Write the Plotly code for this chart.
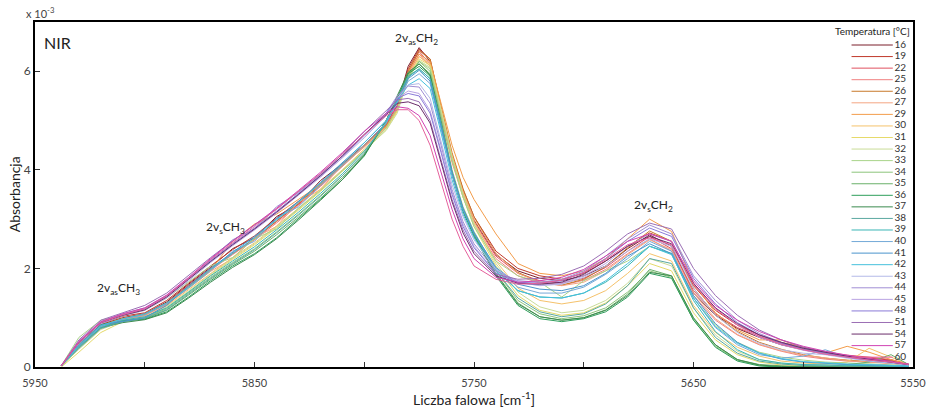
import plotly.graph_objects as go

# Wavenumber grid [cm-1]
wavenumber = [5938, 5930, 5920, 5910, 5900, 5890, 5880, 5870, 5860, 5850,
              5840, 5830, 5820, 5810, 5800, 5790, 5785, 5780, 5775, 5770,
              5765, 5760, 5755, 5750, 5740, 5730, 5720, 5710, 5700, 5690,
              5680, 5670, 5660, 5650, 5640, 5630, 5620, 5610, 5600, 5590,
              5580, 5570, 5560, 5552]

temps = [16, 19, 22, 25, 26, 27, 29, 30, 31, 32, 33, 34, 35, 36,
         37, 38, 39, 40, 41, 42, 43, 44, 45, 48, 51, 54, 57, 60]

# Absorbance x 10^-3
abs_16 = [0.03, 0.48, 0.86, 1.0, 1.08, 1.32, 1.68, 2.02, 2.4, 2.62, 3.05, 3.3, 3.78, 4.12, 4.5, 4.95, 5.3, 6.1, 6.48, 6.2, 5.15, 4.25, 3.55, 2.98, 2.28, 1.95, 1.8, 1.75, 1.85, 2.05, 2.4, 2.68, 2.45, 1.5, 1.05, 0.78, 0.6, 0.45, 0.35, 0.26, 0.2, 0.15, 0.12, 0.05]
abs_19 = [0.02, 0.5, 0.88, 1.03, 1.1, 1.35, 1.7, 2.05, 2.38, 2.66, 3.02, 3.36, 3.72, 4.12, 4.52, 4.9, 5.25, 6.05, 6.45, 6.25, 5.25, 4.3, 3.6, 3.05, 2.35, 2.0, 1.85, 1.78, 1.9, 2.15, 2.45, 2.72, 2.55, 1.65, 1.15, 0.85, 0.65, 0.5, 0.4, 0.3, 0.22, 0.18, 0.14, 0.06]
abs_22 = [0.03, 0.45, 0.84, 0.98, 1.06, 1.3, 1.66, 2.0, 2.3, 2.6, 2.95, 3.3, 3.68, 4.08, 4.5, 4.92, 5.3, 6.0, 6.4, 6.15, 5.1, 4.2, 3.5, 2.95, 2.25, 1.9, 1.75, 1.7, 1.8, 2.02, 2.35, 2.65, 2.4, 1.55, 1.08, 0.8, 0.62, 0.48, 0.38, 0.3, 0.24, 0.2, 0.15, 0.06]
abs_25 = [0.02, 0.42, 0.8, 0.96, 1.04, 1.28, 1.62, 1.96, 2.28, 2.58, 2.92, 3.28, 3.66, 4.06, 4.48, 4.88, 5.25, 5.95, 6.35, 6.1, 5.1, 4.15, 3.45, 2.9, 2.2, 1.85, 1.7, 1.66, 1.76, 1.98, 2.3, 2.6, 2.35, 1.45, 0.95, 0.65, 0.45, 0.32, 0.22, 0.16, 0.12, 0.1, 0.08, 0.04]
abs_26 = [0.02, 0.46, 0.85, 0.99, 1.07, 1.3, 1.64, 1.98, 2.3, 2.6, 2.96, 3.32, 3.7, 4.1, 4.52, 4.9, 5.22, 6.0, 6.42, 6.25, 5.3, 4.35, 3.62, 3.05, 2.3, 1.92, 1.72, 1.66, 1.78, 2.04, 2.42, 2.76, 2.55, 1.6, 1.05, 0.72, 0.5, 0.36, 0.25, 0.18, 0.14, 0.11, 0.08, 0.04]
abs_27 = [0.03, 0.4, 0.8, 0.97, 1.05, 1.26, 1.6, 1.94, 2.2, 2.62, 2.85, 3.34, 3.6, 4.1, 4.46, 4.86, 5.2, 5.92, 6.3, 6.12, 5.2, 4.25, 3.55, 3.0, 2.3, 1.9, 1.72, 1.65, 1.72, 1.95, 2.28, 2.58, 2.38, 1.5, 0.98, 0.66, 0.46, 0.33, 0.24, 0.18, 0.13, 0.1, 0.07, 0.03]
abs_29 = [0.02, 0.44, 0.83, 0.98, 1.06, 1.28, 1.62, 1.96, 2.55, 2.9, 3.1, 3.4, 3.7, 4.08, 4.5, 4.88, 5.22, 5.98, 6.35, 6.2, 5.35, 4.5, 3.85, 3.4, 2.7, 2.1, 1.9, 1.85, 1.95, 2.2, 2.6, 3.0, 2.75, 1.7, 1.1, 0.75, 0.55, 0.55, 0.38, 0.28, 0.42, 0.3, 0.15, 0.05]
abs_30 = [0.02, 0.38, 0.78, 0.95, 1.02, 1.24, 1.57, 1.9, 2.22, 2.52, 2.86, 3.22, 3.6, 4.0, 4.42, 4.85, 5.2, 5.9, 6.3, 6.15, 5.25, 4.3, 3.55, 2.95, 2.15, 1.6, 1.35, 1.28, 1.35, 1.55, 1.9, 2.3, 2.15, 1.25, 0.7, 0.4, 0.22, 0.12, 0.08, 0.06, 0.1, 0.38, 0.2, 0.05]
abs_31 = [0.0, 0.3, 0.7, 0.92, 1.0, 1.2, 1.52, 1.86, 2.18, 2.48, 2.82, 3.18, 3.56, 3.96, 4.38, 4.82, 5.18, 5.88, 6.25, 6.12, 5.2, 4.2, 3.45, 2.85, 2.05, 1.45, 1.15, 1.05, 1.1, 1.3, 1.65, 2.1, 1.95, 1.1, 0.55, 0.25, 0.1, 0.04, 0.02, 0.01, 0.0, 0.0, 0.0, 0.0]
abs_32 = [0.02, 0.36, 0.76, 0.93, 1.01, 1.22, 1.54, 1.88, 2.2, 2.5, 2.84, 3.2, 3.58, 3.98, 4.4, 4.8, 5.15, 5.85, 6.22, 6.08, 5.2, 4.25, 3.5, 2.9, 2.1, 1.52, 1.22, 1.1, 1.15, 1.35, 1.7, 2.2, 2.05, 1.2, 0.65, 0.32, 0.15, 0.08, 0.05, 0.04, 0.03, 0.03, 0.02, 0.01]
abs_33 = [0.03, 0.6, 0.95, 1.05, 1.15, 1.4, 1.72, 2.05, 2.22, 2.6, 2.8, 3.22, 3.58, 3.98, 4.38, 4.85, 5.25, 5.85, 6.2, 6.05, 5.15, 4.2, 3.45, 2.85, 2.15, 1.85, 1.72, 1.42, 1.75, 1.95, 2.15, 2.45, 2.3, 1.4, 0.85, 0.5, 0.3, 0.2, 0.14, 0.1, 0.08, 0.06, 0.05, 0.03]
abs_34 = [0.02, 0.4, 0.8, 0.94, 1.0, 1.18, 1.5, 1.82, 2.12, 2.4, 2.74, 3.1, 3.48, 3.88, 4.32, 4.95, 5.4, 5.9, 6.2, 6.0, 5.05, 4.0, 3.25, 2.75, 1.95, 1.35, 1.08, 0.98, 1.04, 1.2, 1.52, 1.95, 1.82, 0.95, 0.42, 0.14, 0.03, 0.0, 0.0, 0.0, 0.0, 0.0, 0.0, 0.0]
abs_35 = [0.03, 0.45, 0.82, 0.92, 0.98, 1.15, 1.46, 1.78, 2.08, 2.35, 2.68, 3.04, 3.42, 3.84, 4.3, 5.0, 5.45, 5.95, 6.15, 5.95, 5.0, 3.95, 3.2, 2.7, 1.9, 1.3, 1.02, 0.95, 1.0, 1.16, 1.48, 1.98, 1.85, 0.98, 0.45, 0.15, 0.05, 0.02, 0.0, 0.0, 0.05, 0.1, 0.25, 0.05]
abs_36 = [0.02, 0.5, 0.86, 0.94, 0.97, 1.12, 1.42, 1.75, 2.05, 2.3, 2.62, 3.0, 3.4, 3.8, 4.28, 5.0, 5.45, 5.95, 6.1, 5.9, 4.95, 3.9, 3.15, 2.65, 1.85, 1.25, 0.98, 0.92, 0.98, 1.12, 1.42, 1.9, 1.8, 0.95, 0.4, 0.12, 0.02, 0.0, 0.0, 0.0, 0.0, 0.0, 0.0, 0.0]
abs_37 = [0.03, 0.42, 0.8, 0.9, 0.96, 1.1, 1.4, 1.72, 2.02, 2.28, 2.6, 2.98, 3.38, 3.8, 4.3, 5.0, 5.5, 5.98, 6.15, 5.92, 4.95, 3.92, 3.18, 2.68, 1.88, 1.28, 1.02, 0.95, 1.0, 1.15, 1.45, 1.92, 1.85, 1.0, 0.45, 0.15, 0.04, 0.01, 0.0, 0.0, 0.0, 0.0, 0.0, 0.0]
abs_38 = [0.02, 0.38, 0.78, 0.92, 0.99, 1.16, 1.48, 1.8, 2.1, 2.38, 2.72, 3.08, 3.46, 3.88, 4.34, 4.98, 5.42, 5.9, 6.05, 5.85, 4.95, 3.95, 3.2, 2.7, 1.95, 1.4, 1.12, 1.02, 1.08, 1.28, 1.65, 2.2, 2.1, 1.2, 0.6, 0.28, 0.12, 0.06, 0.03, 0.02, 0.02, 0.02, 0.02, 0.01]
abs_39 = [0.03, 0.4, 0.8, 0.95, 1.02, 1.2, 1.52, 1.85, 2.15, 2.44, 2.78, 3.14, 3.52, 3.92, 4.38, 4.95, 5.4, 5.88, 6.05, 5.85, 4.92, 3.92, 3.18, 2.7, 1.98, 1.55, 1.42, 1.4, 1.5, 1.72, 2.05, 2.45, 2.3, 1.35, 0.72, 0.35, 0.15, 0.08, 0.05, 0.04, 0.03, 0.03, 0.02, 0.02]
abs_40 = [0.02, 0.42, 0.82, 0.97, 1.06, 1.28, 1.6, 1.95, 2.35, 2.55, 3.02, 3.25, 3.68, 4.08, 4.5, 4.95, 5.35, 5.8, 5.95, 5.75, 4.85, 3.9, 3.2, 2.72, 2.0, 1.62, 1.5, 1.5, 1.62, 1.88, 2.2, 2.55, 2.35, 1.4, 0.8, 0.45, 0.25, 0.18, 0.22, 0.35, 0.2, 0.12, 0.08, 0.04]
abs_41 = [0.03, 0.45, 0.85, 0.92, 1.0, 1.25, 1.65, 2.0, 2.33, 2.65, 3.0, 3.36, 3.74, 4.14, 4.55, 5.0, 5.4, 5.85, 6.02, 5.8, 4.9, 3.95, 3.22, 2.72, 2.02, 1.68, 1.58, 1.55, 1.65, 1.9, 2.25, 2.5, 2.3, 1.45, 0.88, 0.5, 0.28, 0.16, 0.1, 0.07, 0.05, 0.04, 0.03, 0.02]
abs_42 = [0.02, 0.44, 0.84, 0.98, 1.08, 1.3, 1.62, 1.98, 2.3, 2.62, 2.98, 3.34, 3.72, 4.12, 4.55, 5.0, 5.38, 5.72, 5.85, 5.65, 4.75, 3.8, 3.1, 2.62, 1.95, 1.55, 1.42, 1.4, 1.5, 1.75, 2.1, 2.45, 2.28, 1.4, 0.82, 0.48, 0.28, 0.17, 0.11, 0.08, 0.06, 0.05, 0.04, 0.02]
abs_43 = [0.03, 0.5, 0.9, 1.05, 1.18, 1.42, 1.78, 2.14, 2.48, 2.8, 3.14, 3.5, 3.86, 4.24, 4.65, 5.1, 5.45, 5.72, 5.75, 5.45, 4.6, 3.7, 3.05, 2.58, 1.98, 1.72, 1.65, 1.68, 1.82, 2.05, 2.35, 2.6, 2.45, 1.6, 1.05, 0.7, 0.48, 0.35, 0.28, 0.25, 0.18, 0.12, 0.08, 0.04]
abs_44 = [0.02, 0.52, 0.92, 1.08, 1.2, 1.45, 1.8, 2.18, 2.58, 2.8, 3.25, 3.54, 3.9, 4.28, 4.7, 5.15, 5.5, 5.7, 5.68, 5.35, 4.5, 3.6, 2.95, 2.5, 1.95, 1.75, 1.72, 1.78, 1.95, 2.25, 2.6, 2.88, 2.7, 1.85, 1.35, 0.95, 0.68, 0.5, 0.38, 0.3, 0.22, 0.16, 0.1, 0.05]
abs_45 = [0.03, 0.48, 0.88, 1.04, 1.15, 1.4, 1.75, 2.12, 2.46, 2.78, 3.12, 3.48, 3.85, 4.25, 4.68, 5.12, 5.45, 5.6, 5.55, 5.2, 4.4, 3.55, 2.9, 2.45, 1.9, 1.7, 1.66, 1.7, 1.85, 2.1, 2.45, 2.7, 2.55, 1.7, 1.2, 0.85, 0.6, 0.45, 0.34, 0.26, 0.2, 0.15, 0.1, 0.05]
abs_48 = [0.02, 0.5, 0.9, 1.06, 1.18, 1.44, 1.8, 2.16, 2.5, 2.82, 3.16, 3.52, 3.88, 4.28, 4.72, 5.15, 5.45, 5.55, 5.5, 5.15, 4.35, 3.5, 2.85, 2.42, 1.9, 1.72, 1.7, 1.75, 1.92, 2.2, 2.55, 2.82, 2.65, 1.8, 1.28, 0.9, 0.65, 0.48, 0.36, 0.28, 0.2, 0.14, 0.1, 0.05]
abs_51 = [0.03, 0.55, 0.95, 1.1, 1.25, 1.5, 1.86, 2.22, 2.56, 2.88, 3.2, 3.56, 3.92, 4.32, 4.78, 5.2, 5.42, 5.45, 5.38, 5.0, 4.2, 3.4, 2.78, 2.35, 1.88, 1.78, 1.8, 1.88, 2.05, 2.35, 2.7, 2.92, 2.8, 2.0, 1.45, 1.05, 0.75, 0.55, 0.4, 0.3, 0.22, 0.15, 0.1, 0.05]
abs_54 = [0.02, 0.5, 0.9, 1.05, 1.16, 1.42, 1.78, 2.14, 2.48, 2.8, 3.14, 3.5, 3.88, 4.28, 4.72, 5.12, 5.35, 5.38, 5.3, 4.95, 4.15, 3.35, 2.72, 2.3, 1.85, 1.7, 1.68, 1.72, 1.88, 2.15, 2.45, 2.65, 2.5, 1.7, 1.2, 0.88, 0.65, 0.5, 0.38, 0.3, 0.22, 0.16, 0.1, 0.05]
abs_57 = [0.03, 0.52, 0.92, 1.08, 1.2, 1.46, 1.82, 2.2, 2.55, 2.88, 3.22, 3.58, 3.95, 4.35, 4.78, 5.15, 5.28, 5.25, 5.1, 4.7, 3.95, 3.2, 2.6, 2.2, 1.82, 1.72, 1.75, 1.82, 1.98, 2.25, 2.55, 2.7, 2.55, 1.75, 1.25, 0.95, 0.72, 0.55, 0.42, 0.32, 0.24, 0.18, 0.12, 0.06]
abs_60 = [0.02, 0.5, 0.9, 1.06, 1.18, 1.44, 1.8, 2.18, 2.52, 2.85, 3.2, 3.56, 3.92, 4.32, 4.72, 5.1, 5.22, 5.22, 5.0, 4.5, 3.75, 3.0, 2.45, 2.05, 1.78, 1.68, 1.7, 1.76, 1.92, 2.18, 2.48, 2.62, 2.48, 1.68, 1.18, 0.85, 0.62, 0.46, 0.35, 0.26, 0.2, 0.14, 0.1, 0.05]

series = [abs_16, abs_19, abs_22, abs_25, abs_26, abs_27, abs_29, abs_30, abs_31, abs_32,
          abs_33, abs_34, abs_35, abs_36, abs_37, abs_38, abs_39, abs_40, abs_41, abs_42,
          abs_43, abs_44, abs_45, abs_48, abs_51, abs_54, abs_57, abs_60]

x_tickvals = [5950, 5900, 5850, 5800, 5750, 5700, 5650, 5600, 5550]
x_ticktext = ['5950', '', '5850', '', '5750', '', '5650', '', '5550']
y_tickvals = [0, 2, 4, 6]

colors = ['#7b1f2a', '#c0392b', '#e0505f', '#f08080', '#c8782a', '#f4a582', '#f39c4a',
          '#f5c26b', '#e6da6a', '#c9dc98', '#a8d48a', '#8cc47a', '#6ab06a', '#2e9e5b',
          '#3b8a4f', '#5aa8a0', '#3ab5b5', '#74a9d8', '#4a94cc', '#45c0dc', '#b3b9e8',
          '#a08ed4', '#b9a3e3', '#8a7ad8', '#9b6fb5', '#6b2d6b', '#d043b3', '#e5619c']

font = 'Lato, Open Sans, sans-serif'

fig = go.Figure()

for t, ys, c in zip(temps, series, colors):
    fig.add_trace(go.Scatter(x=wavenumber, y=ys, mode='lines', name=str(t),
                             line=dict(color=c, width=1), showlegend=False))

# hand-made legend (native legend is too tall for 28 entries)
for i, (t, c) in enumerate(zip(temps, colors)):
    fig.add_trace(go.Scatter(x=[0.3, 0.77], y=[i, i], mode='lines', xaxis='x2', yaxis='y2',
                             line=dict(color=c, width=1), showlegend=False, hoverinfo='skip'))
fig.add_trace(go.Scatter(x=[0.79] * len(temps), y=list(range(len(temps))), mode='text',
                         text=[str(t) for t in temps], textposition='middle right',
                         textfont=dict(family=font, size=10, color='#333'),
                         xaxis='x2', yaxis='y2', showlegend=False, hoverinfo='skip'))

fig.update_layout(
    width=931, height=407,
    margin=dict(l=35, r=18, t=22, b=40),
    paper_bgcolor='white', plot_bgcolor='rgba(0,0,0,0)',
    font=dict(family=font, color='#333'),
    xaxis=dict(range=[5950, 5550], tickvals=x_tickvals, ticktext=x_ticktext,
               ticks='inside', ticklen=5, tickcolor='#333', showgrid=False, zeroline=False,
               showline=True, linecolor='black', linewidth=2, mirror=True,
               tickfont=dict(size=11, color='#444'), ticklabeloverflow='allow',
               ticklabelstandoff=5, automargin=False),
    yaxis=dict(range=[0, 7], tickvals=y_tickvals, ticks='inside', ticklen=5, tickcolor='#333',
               showgrid=False, zeroline=False, showline=True, linecolor='black', linewidth=2,
               mirror=True, tickfont=dict(size=12, color='#444'), automargin=False),
    xaxis2=dict(domain=[0.9, 1.0], range=[0, 1], visible=False, anchor='y2'),
    yaxis2=dict(domain=[0, 1], range=[27.85, -1.99], visible=False, anchor='x2'),
    annotations=[
        dict(text='Liczba falowa [cm<sup>-1</sup>]', xref='paper', yref='paper', x=0.5,
             y=-0.09, xanchor='center', yanchor='middle', showarrow=False,
             font=dict(size=14, color='#222')),
        dict(text='Absorbancja', xref='paper', yref='paper', x=-0.023, y=0.5, textangle=-90,
             xanchor='center', yanchor='middle', showarrow=False,
             font=dict(size=14, color='#222')),
        dict(text='NIR', xref='paper', yref='paper', x=0.008, y=0.94, xanchor='left',
             yanchor='middle', showarrow=False, font=dict(size=16, color='#222')),
        dict(text='x 10<sup>-3</sup>', xref='paper', yref='paper', x=-0.012, y=1.0,
             xanchor='left', yanchor='bottom', showarrow=False, font=dict(size=11, color='#444')),
        dict(text='Temperatura [°C]', xref='x2', yref='y2', x=0.99, y=-1.2, xanchor='right',
             yanchor='middle', showarrow=False, font=dict(size=10, color='#222')),
        dict(text='2v<sub>as</sub>CH<sub>2</sub>', x=5776, y=6.67, showarrow=False,
             font=dict(size=12, color='#222')),
        dict(text='2v<sub>s</sub>CH<sub>2</sub>', x=5668, y=3.27, showarrow=False,
             font=dict(size=12, color='#222')),
        dict(text='2v<sub>s</sub>CH<sub>3</sub>', x=5863, y=2.84, showarrow=False,
             font=dict(size=12, color='#222')),
        dict(text='2v<sub>as</sub>CH<sub>3</sub>', x=5912, y=1.6, showarrow=False,
             font=dict(size=12, color='#222')),
    ],
)

# drop the default page margin so the figure sits at the window's top-left corner
fig.write_html("out.html", config={'displayModeBar': False},
               post_script="document.body.style.margin='0';")
